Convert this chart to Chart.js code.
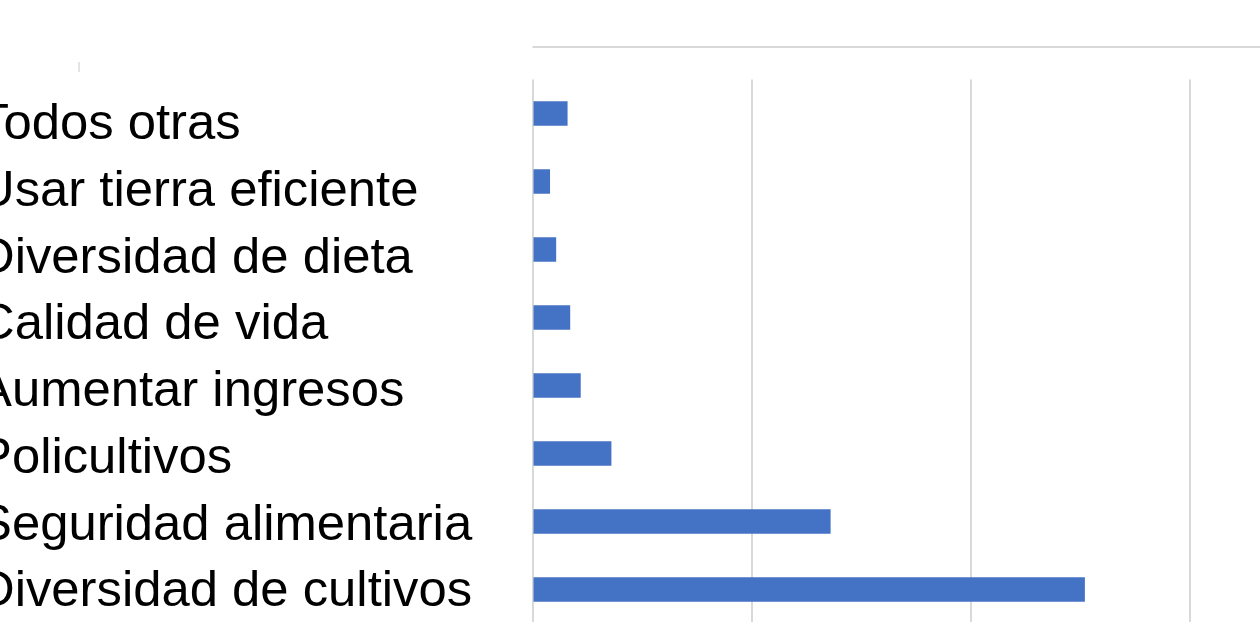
<!DOCTYPE html>
<html>
<head>
<meta charset="utf-8">
<script src="https://cdn.jsdelivr.net/npm/chart.js@4"></script>
<style>
  html, body { margin: 0; padding: 0; background: #fff; overflow: hidden; width: 1260px; height: 622px; }
  #wrap { position: absolute; left: -22px; top: 0; }
</style>
</head>
<body>
<div id="wrap"><canvas id="razones" width="1450" height="660" style="width:1450px;height:660px"></canvas></div>
<script>
// categorías de arriba a abajo
const categorias = [
  'Todos otras',
  'Usar tierra eficiente',
  'Diversidad de dieta',
  'Calidad de vida',
  'Aumentar ingresos',
  'Policultivos',
  'Seguridad alimentaria',
  'Diversidad de cultivos'
];
const respuestas = [8, 4, 5.4, 8.6, 11, 18, 68, 126];
const ejeX = { min: 0, max: 200, paso: 50 };

const AZUL = '#4472c4';
const GRIS = '#d9d9d9';

// linea superior y marca suelta del recorte original
const lineaSuperior = {
  id: 'lineaSuperior',
  afterDraw(chart) {
    const { ctx, chartArea } = chart;
    ctx.save();
    ctx.strokeStyle = GRIS;
    ctx.lineWidth = 2;
    ctx.beginPath();
    ctx.moveTo(chartArea.left, chartArea.top - 32.6);
    ctx.lineTo(chartArea.right + 20, chartArea.top - 32.6);
    ctx.stroke();
    ctx.strokeStyle = '#e4e4e4';
    ctx.beginPath();
    ctx.moveTo(101, 62);
    ctx.lineTo(101, 72);
    ctx.stroke();
    ctx.restore();
  }
};

new Chart(document.getElementById('razones').getContext('2d'), {
  type: 'bar',
  data: {
    labels: categorias,
    datasets: [{
      data: respuestas,
      backgroundColor: AZUL,
      borderWidth: 0,
      barPercentage: 0.36,
      categoryPercentage: 1
    }]
  },
  options: {
    indexAxis: 'y',
    responsive: false,
    animation: false,
    devicePixelRatio: 1,
    layout: { padding: { top: 79.6, bottom: 36.4, left: 0, right: 18.7 } },
    plugins: { legend: { display: false }, tooltip: { enabled: false } },
    scales: {
      x: {
        type: 'linear',
        min: ejeX.min, max: ejeX.max,
        ticks: { display: false, stepSize: ejeX.paso },
        grid: { color: GRIS, lineWidth: 2, drawTicks: false },
        border: { display: false }
      },
      y: { display: false },
      // eje solo de etiquetas, algo más juntas que las barras como en el original
      etiquetas: {
        type: 'linear',
        axis: 'y',
        position: 'left',
        reverse: true,
        bounds: 'data',
        min: -0.174, max: 6.958,
        grid: { display: false, drawTicks: false },
        border: { display: false },
        ticks: {
          crossAlign: 'far',
          color: '#000',
          font: { family: '"Liberation Sans", Arial, sans-serif', size: 50.8, lineHeight: 0.01 },
          callback: v => categorias[v] ?? ''
        },
        afterBuildTicks: s => { s.ticks = categorias.map((c, i) => ({ value: i })); },
        afterFit: s => { s.width = 554.5; }
      }
    }
  },
  plugins: [lineaSuperior]
});
</script>
</body>
</html>
